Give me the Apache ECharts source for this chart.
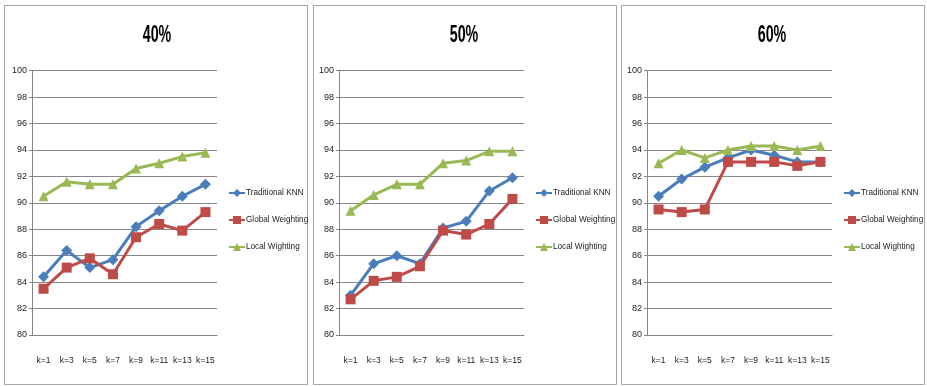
<!DOCTYPE html>
<html>
<head>
<meta charset="utf-8">
<script src="https://cdn.jsdelivr.net/npm/echarts@6/dist/echarts.min.js"></script>
<style>
  html, body { margin: 0; padding: 0; background: #fff; }
  #main { width: 927px; height: 386px; }
</style>
</head>
<body>
<div id="main"></div>
<script>
// categories and panels
const cats = ['k=1', 'k=3', 'k=5', 'k=7', 'k=9', 'k=11', 'k=13', 'k=15'];
const panelTitles = ['40%', '50%', '60%'];
const seriesNames = ['Traditional KNN', 'Global Weighting', 'Local Wighting'];

// 40%
const knn40 = [84.4, 86.4, 85.1, 85.7, 88.2, 89.4, 90.5, 91.4];
const gw40  = [83.5, 85.1, 85.8, 84.6, 87.4, 88.4, 87.9, 89.3];
const lw40  = [90.5, 91.6, 91.4, 91.4, 92.6, 93.0, 93.5, 93.8];
// 50%
const knn50 = [83.0, 85.4, 86.0, 85.4, 88.1, 88.6, 90.9, 91.9];
const gw50  = [82.7, 84.1, 84.4, 85.2, 87.9, 87.6, 88.4, 90.3];
const lw50  = [89.4, 90.6, 91.4, 91.4, 93.0, 93.2, 93.9, 93.9];
// 60%
const knn60 = [90.5, 91.8, 92.7, 93.4, 94.0, 93.6, 93.1, 93.1];
const gw60  = [89.5, 89.3, 89.5, 93.1, 93.1, 93.1, 92.8, 93.1];
const lw60  = [93.0, 94.0, 93.4, 94.0, 94.3, 94.3, 94.0, 94.3];

const panelData = [[knn40, gw40, lw40], [knn50, gw50, lw50], [knn60, gw60, lw60]];

const colors = ['#4a7ebb', '#be4b48', '#98b954'];
const symbols = ['diamond', 'rect', 'triangle'];
const symbolSizes = [11, 10, 10];
const font = "'Liberation Sans', Arial, sans-serif";

const chart = echarts.init(document.getElementById('main'));

const panelX = [4, 313, 621];      // panel border left edges
const gridLeft = [32, 339, 647];   // plot area left edges

const grids = [], xAxes = [], yAxes = [], series = [], legends = [], graphics = [];
panelX.forEach((px, i) => {
  // panel frame
  graphics.push({
    type: 'rect',
    shape: { x: px + 0.5, y: 5.5, width: 303, height: 379 },
    style: { fill: 'none', stroke: '#a6a6a6', lineWidth: 1 },
    z: -1
  });
  // panel title, squeezed like the narrow bold font of the original
  graphics.push({
    type: 'text',
    x: gridLeft[i] + 125,
    y: 36,
    scaleX: 0.62,
    style: {
      text: panelTitles[i],
      font: "bold 23px 'Liberation Sans', Arial, sans-serif",
      fill: '#000',
      textAlign: 'center',
      textVerticalAlign: 'middle'
    }
  });
  grids.push({ left: gridLeft[i], top: 70.7, width: 185, height: 264.3 });
  xAxes.push({
    type: 'category',
    gridIndex: i,
    data: cats,
    boundaryGap: true,
    axisLine: { show: true, lineStyle: { color: '#868686' } },
    axisTick: { show: false },
    axisLabel: { interval: 0, margin: 21, fontFamily: font, fontSize: 8.5, color: '#222' }
  });
  yAxes.push({
    type: 'value',
    gridIndex: i,
    min: 80,
    max: 100,
    interval: 2,
    axisLine: { show: true, lineStyle: { color: '#868686' } },
    axisTick: { show: true, length: 3, lineStyle: { color: '#868686' } },
    axisLabel: { margin: 5, fontFamily: font, fontSize: 9, color: '#222' },
    splitLine: { show: true, lineStyle: { color: '#868686', width: 1 } }
  });
  legends.push({
    orient: 'vertical',
    left: gridLeft[i] + 191,
    top: 184,
    itemWidth: 16,
    itemHeight: 10,
    itemGap: 19,
    data: seriesNames,
    textStyle: { fontFamily: font, fontSize: 8.2, color: '#222', padding: [0, 0, 0, -4] }
  });
  panelData[i].forEach((vals, s) => {
    series.push({
      name: seriesNames[s],
      type: 'line',
      xAxisIndex: i,
      yAxisIndex: i,
      data: vals,
      symbol: symbols[s],
      symbolSize: symbolSizes[s],
      showAllSymbol: true,
      lineStyle: { color: colors[s], width: 3 },
      itemStyle: { color: colors[s] },
      animation: false
    });
  });
});

chart.setOption({
  animation: false,
  color: colors,
  legend: legends,
  grid: grids,
  xAxis: xAxes,
  yAxis: yAxes,
  series: series,
  graphic: graphics
});
</script>
</body>
</html>
